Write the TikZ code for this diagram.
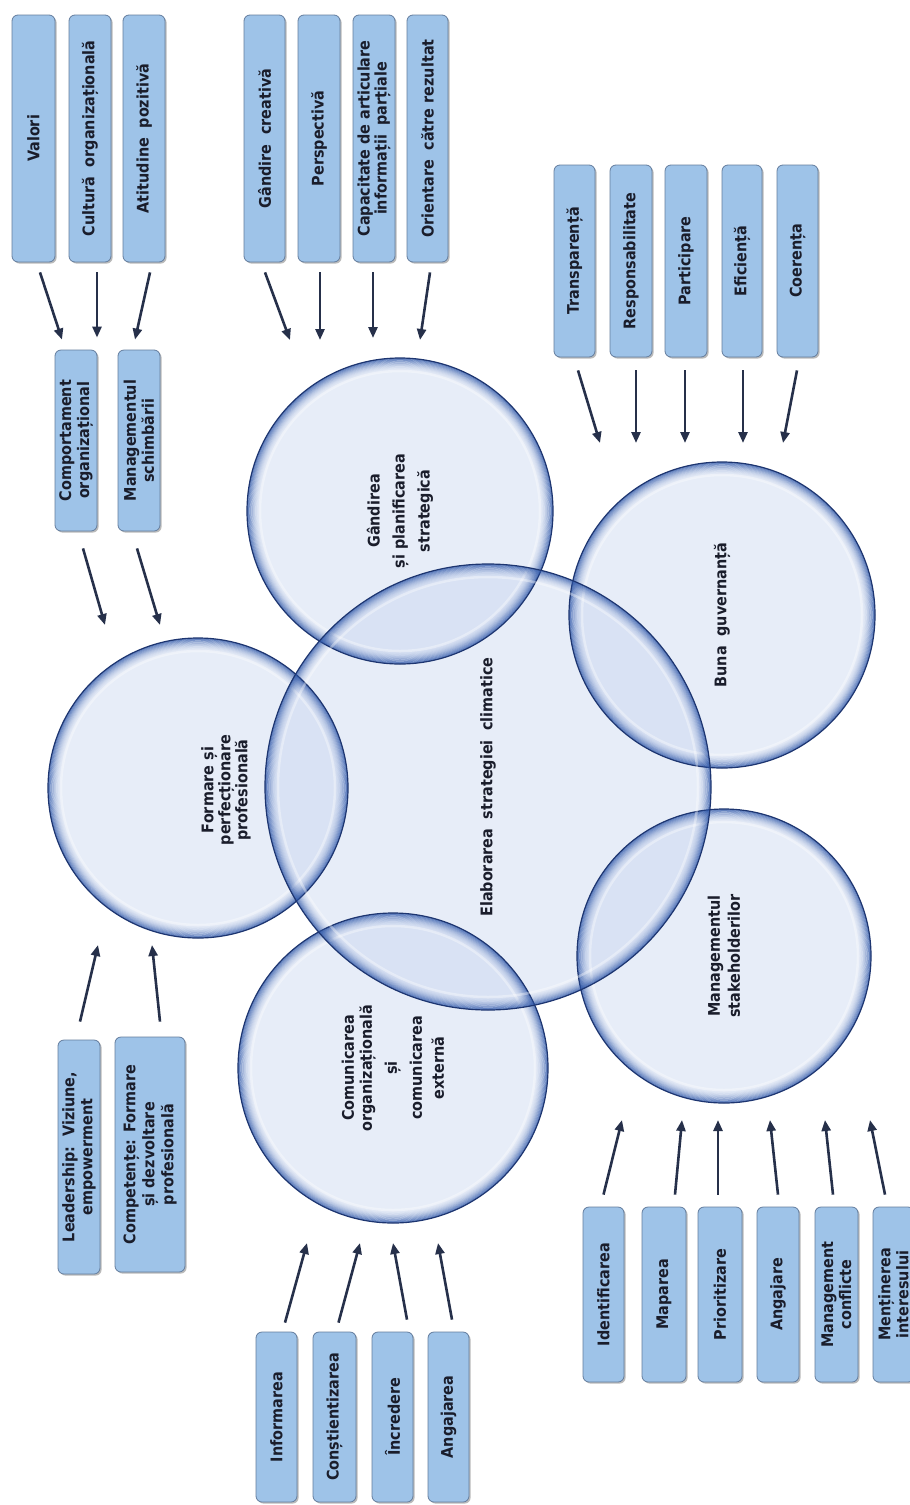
\documentclass[tikz,border=0pt]{standalone}
\usepackage{fontspec}
\setmainfont{DejaVu Sans}[FakeStretch=0.9]
\usetikzlibrary{arrows.meta,calc,shadows}

\definecolor{boxfill}{HTML}{9EC3E8}
\definecolor{boxline}{HTML}{647D9E}
\definecolor{inkcol}{HTML}{1A1D2B}
\definecolor{arrowcol}{HTML}{26304A}
\definecolor{bubfill}{HTML}{C5D3EE}
\definecolor{rimcol}{HTML}{2D56A8}
\definecolor{bubline}{HTML}{1D3570}

\tikzset{
  cbox/.style={rectangle, rounded corners=6pt, rotate=90, draw=boxline,
    line width=0.8pt, fill=boxfill,
    drop shadow={shadow xshift=1.6pt, shadow yshift=-1.6pt, fill=black!60, opacity=0.45},
    align=center, inner sep=2pt, text=inkcol,
    font=\fontsize{16}{18}\selectfont\bfseries},
  arr/.style={draw=arrowcol, line width=2.6pt, -{Triangle[length=11pt,width=9pt]}},
  bubble/.style={circle, inner sep=0pt, outer sep=0pt, minimum size=#1,
    fill=bubfill, fill opacity=0.4, text opacity=1, rotate=90, align=center,
    text=inkcol, font=\fontsize{16}{19}\selectfont\bfseries},
  ctext/.style={rotate=90, align=center, text=inkcol, inner sep=0pt},
}

% wide word gap
\newcommand\wsp{\hspace{0.6em}}

% inner blue rim, soft light ring and outline of a bubble
\newcommand\rimglow[2]{%
  \foreach \k in {0,...,15}{%
    \pgfmathsetmacro\rimop{0.7*(1-\k/16)^2.2}%
    \draw[rimcol, line width=1pt, draw opacity=\rimop] (#1.center) circle ({#2-0.5-\k*0.85});
  }%
  \draw[white, line width=2.5pt, draw opacity=0.35] (#1.center) circle ({#2-13});
  \draw[bubline, line width=1.2pt] (#1.center) circle (#2);
}

\begin{document}
\begin{tikzpicture}[x=1pt, y=1pt]
\useasboundingbox (0,0) rectangle (910,-1505);
\clip (0,0) rectangle (910,-1505);
\fill[white] (0,0) rectangle (910,-1505);

% ---- bubbles ----
\node[bubble=300pt] (form) at (198,-788) {};
\node[bubble=306pt, font=\fontsize{16}{25}\selectfont\bfseries] (gand) at (400,-511)
  {Gândirea\\și planificarea\\strategică};
\node[bubble=306pt] (buna) at (722,-615) {Buna\wsp guvernanță};
\node[bubble=294pt, font=\fontsize{16}{20}\selectfont\bfseries] (stake) at (724,-956)
  {Managementul\\stakeholderilor};
\node[bubble=310pt, font=\fontsize{16}{18}\selectfont\bfseries] (comu) at (393,-1068)
  {Comunicarea\\organizațională\\[7pt]și\\[7pt]comunicarea\\[4pt]externă};
\node[bubble=446pt] (central) at (488,-787) {Elaborarea\wsp strategiei\wsp climatice};
\node[ctext, font=\fontsize{16}{17}\selectfont\bfseries] (formlabel) at (226,-790)
  {Formare și\\perfecționare\\profesională};

\rimglow{form}{150}
\rimglow{gand}{153}
\rimglow{buna}{153}
\rimglow{stake}{147}
\rimglow{comu}{155}
\rimglow{central}{223}

% ---- top left ----
\node[cbox, minimum width=247pt, minimum height=43pt] (valori) at (33.5,-138.5) {Valori};
\node[cbox, minimum width=247pt, minimum height=42pt] (cultura) at (90,-138.5) {Cultură\wsp organizațională};
\node[cbox, minimum width=247pt, minimum height=42pt] (atitudine) at (144,-138.5) {Atitudine\wsp pozitivă};
\node[cbox, minimum width=181pt, minimum height=42pt] (comport) at (76,-440.5) {Comportament\\organizațional};
\node[cbox, minimum width=181pt, minimum height=42pt] (schimb) at (139,-440.5) {Managementul\\schimbării};

% ---- top middle ----
\node[cbox, minimum width=247pt, minimum height=41pt] (gcre) at (264.5,-138.5) {Gândire\wsp creativă};
\node[cbox, minimum width=247pt, minimum height=42pt] (persp) at (319,-138.5) {Perspectivă};
\node[cbox, minimum width=247pt, minimum height=42pt, font=\fontsize{16}{17}\selectfont\bfseries] (capac) at (374,-138.5) {Capacitate de articulare\\informații\wsp parțiale};
\node[cbox, minimum width=247pt, minimum height=41pt] (orient) at (427.5,-138.5) {Orientare\wsp către rezultat};

% ---- top right ----
\node[cbox, minimum width=192pt, minimum height=41pt] (transp) at (574.5,-261) {Transparență};
\node[cbox, minimum width=192pt, minimum height=42pt] (resp) at (631,-261) {Responsabilitate};
\node[cbox, minimum width=192pt, minimum height=42pt] (partic) at (686,-261) {Participare};
\node[cbox, minimum width=192pt, minimum height=40pt] (efic) at (742,-261) {Eficiență};
\node[cbox, minimum width=192pt, minimum height=41pt] (coer) at (797.5,-261) {Coerența};

% ---- bottom left ----
\node[cbox, minimum width=234pt, minimum height=42pt] (lead) at (79,-1157) {Leadership:\wsp Viziune,\\empowerment};
\node[cbox, minimum width=235pt, minimum height=70pt, font=\fontsize{16}{19}\selectfont\bfseries] (comp) at (150,-1154.5) {Competențe: Formare\\și dezvoltare\\profesională};

% ---- bottom middle ----
\node[cbox, minimum width=170pt, minimum height=41pt] (inform) at (276.5,-1417) {Informarea};
\node[cbox, minimum width=170pt, minimum height=43pt] (consti) at (334.5,-1417) {Conștientizarea};
\node[cbox, minimum width=170pt, minimum height=41pt] (incred) at (392.5,-1417) {Încredere};
\node[cbox, minimum width=170pt, minimum height=41pt] (angaj) at (448.5,-1417) {Angajarea};

% ---- bottom right ----
\node[cbox, minimum width=175pt, minimum height=41pt] (ident) at (603.5,-1294.5) {Identificarea};
\node[cbox, minimum width=175pt, minimum height=44pt] (mapa) at (664,-1294.5) {Maparea};
\node[cbox, minimum width=175pt, minimum height=44pt] (prior) at (720,-1294.5) {Prioritizare};
\node[cbox, minimum width=175pt, minimum height=42pt] (angaj2) at (778,-1294.5) {Angajare};
\node[cbox, minimum width=175pt, minimum height=43pt] (mconf) at (836.5,-1294.5) {Management\\conflicte};
\node[cbox, minimum width=175pt, minimum height=41pt] (mint) at (893.5,-1294.5) {Menținerea\\interesului};

% ---- connectors ----
\draw[arr] ($(valori.west)+(6.5,-10)$) -- ($(comport.east)+(-14,10)$);
\draw[arr] ($(cultura.west)+(7,-10)$) -- ($(comport.east)+(21,12)$);
\draw[arr] ($(atitudine.west)+(6,-10)$) -- ($(schimb.east)+(-4,10)$);
\draw[arr] ($(comport.west)+(7,-17)$) -- ($(form.center)+(-93,163)$);
\draw[arr] ($(schimb.west)+(-2,-17)$) -- ($(form.center)+(-38,163)$);

\draw[arr] ($(gcre.west)+(0.5,-10)$) -- ($(gand.center)+(-110,171)$);
\draw[arr] ($(persp.west)+(1,-10)$) -- ($(gand.center)+(-80,171)$);
\draw[arr] ($(capac.west)+(-1,-10)$) -- ($(gand.center)+(-27,173)$);
\draw[arr] ($(orient.west)+(2.5,-10)$) -- ($(gand.center)+(20,171)$);

\draw[arr] ($(transp.west)+(3.5,-13)$) -- ($(buna.center)+(-122,172)$);
\draw[arr] ($(resp.west)+(5,-13)$) -- ($(buna.center)+(-86,172)$);
\draw[arr] ($(partic.west)+(-1,-13)$) -- ($(buna.center)+(-37,172)$);
\draw[arr] ($(efic.west)+(1,-13)$) -- ($(buna.center)+(21,172)$);
\draw[arr] ($(coer.west)+(-0.5,-13)$) -- ($(buna.center)+(61,172)$);

\draw[arr] ($(lead.east)+(1,18)$) -- ($(form.center)+(-100,-157)$);
\draw[arr] ($(comp.east)+(10,15)$) -- ($(form.center)+(-46,-157)$);

\draw[arr] ($(inform.east)+(8.5,9)$) -- ($(comu.center)+(-86,-175)$);
\draw[arr] ($(consti.east)+(4,9)$) -- ($(comu.center)+(-33,-175)$);
\draw[arr] ($(incred.east)+(14.5,12)$) -- ($(comu.center)+(0,-175)$);
\draw[arr] ($(angaj.east)+(3.5,12)$) -- ($(comu.center)+(45,-175)$);

\draw[arr] ($(ident.east)+(0,12)$) -- ($(stake.center)+(-102,-164)$);
\draw[arr] ($(mapa.east)+(11,12)$) -- ($(stake.center)+(-42,-164)$);
\draw[arr] ($(prior.east)+(-2,12)$) -- ($(stake.center)+(-6,-164)$);
\draw[arr] ($(angaj2.east)+(0,12)$) -- ($(stake.center)+(46,-164)$);
\draw[arr] ($(mconf.east)+(-3.5,12)$) -- ($(stake.center)+(101,-164)$);
\draw[arr] ($(mint.east)+(-8.5,12)$) -- ($(stake.center)+(146,-164)$);
\end{tikzpicture}
\end{document}
